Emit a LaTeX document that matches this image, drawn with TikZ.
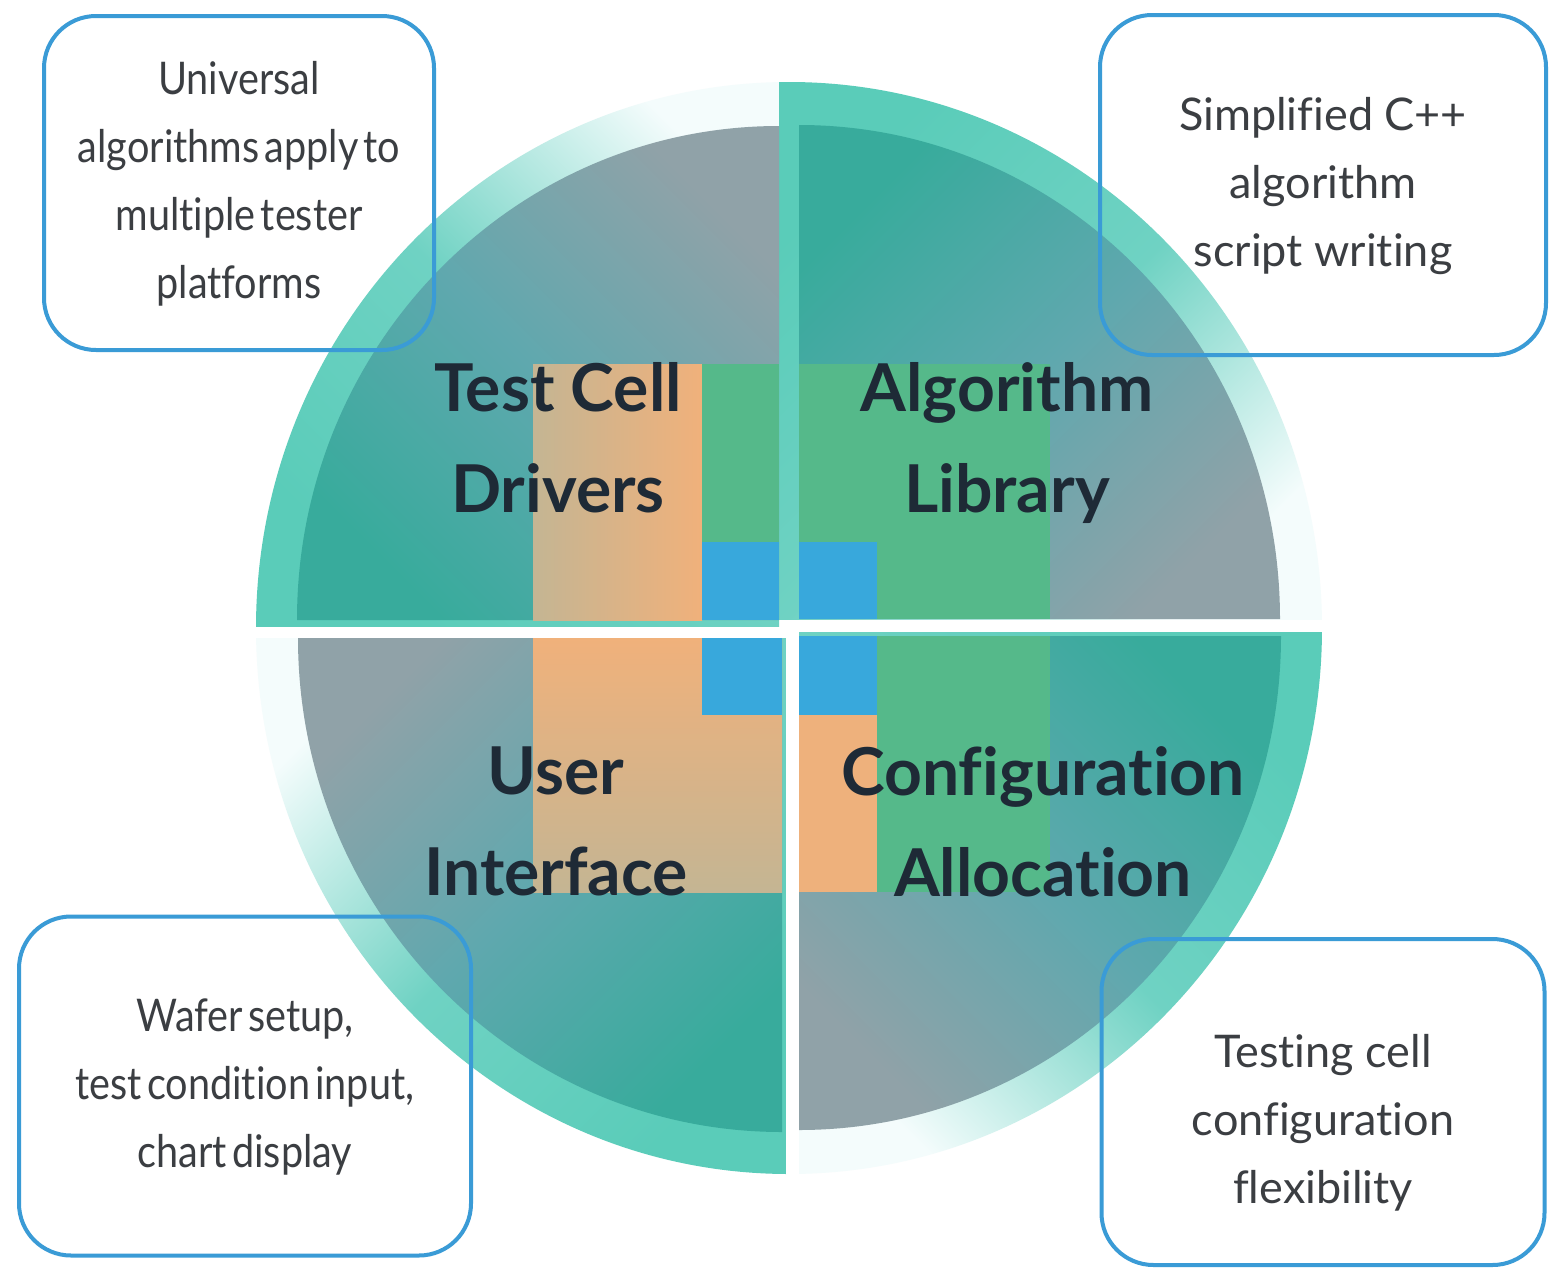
\documentclass[tikz,border=0pt]{standalone}
\usepackage{fontspec}
\setmainfont{Lato}[Ligatures=NoCommon]
\newfontfamily\tightfont{Lato}[Ligatures=NoCommon, FakeStretch=0.88, WordSpace=0.5]
\usetikzlibrary{positioning}

\definecolor{bandteal}{HTML}{5ACCB9}
\definecolor{bandmid}{HTML}{6FD2C3}
\definecolor{bandfade}{HTML}{F4FCFC}
\definecolor{discteal}{HTML}{38AB9C}
\definecolor{discmid}{HTML}{5FA8AE}
\definecolor{discgray}{HTML}{90A2A8}
\definecolor{cellgreen}{HTML}{55B98A}
\definecolor{cellblue}{HTML}{38A8DC}
\definecolor{cellorange}{HTML}{F0B17B}
\definecolor{celltan}{HTML}{C4B593}
\definecolor{boxblue}{HTML}{3A9BD6}
\definecolor{titleink}{HTML}{1E2A36}
\definecolor{noteink}{HTML}{3B3E42}

\tikzset{
  band/.style={top color=bandfade, bottom color=bandteal, middle color=bandmid, shading angle=#1},
  disc/.style={top color=discgray, bottom color=discteal, middle color=discmid, shading angle=#1},
  infobox/.style={draw=boxblue, line width=2pt, rounded corners=26pt, inner sep=0pt},
  note/.style={text=noteink, align=center, inner sep=0pt, font=\fontsize{22.5}{34}\selectfont},
  tightnote/.style={note, font=\tightfont\fontsize{22.5}{34}\selectfont},
  title/.style={text=titleink, align=center, inner sep=0pt, font=\fontsize{33}{50.5}\selectfont\bfseries},
}

\begin{document}
\begin{tikzpicture}[x=0.5pt, y=-0.5pt]
  \useasboundingbox (0,0) rectangle (1549,1270);
  \fill[white] (0,0) rectangle (1549,1270);
  \clip (0,0) rectangle (1549,1270);

  % outer bands
  \begin{scope}
    \clip (0,0) rectangle (779,626);
    \shade[band=-45] (789,628) -- (256,628) arc[start angle=180, end angle=270, x radius=533, y radius=546] -- cycle;
  \end{scope}
  \begin{scope}
    \clip (779,0) rectangle (1549,619);
    \shade[band=-135] (779,628) -- (779,82) -- (789,82) arc[start angle=270, end angle=360, x radius=533, y radius=546] -- cycle;
  \end{scope}
  \begin{scope}
    \clip (799,632) rectangle (1549,1270);
    \shade[band=135] (789,628) -- (1322,628) arc[start angle=0, end angle=90, x radius=533, y radius=546] -- cycle;
  \end{scope}
  \begin{scope}
    \clip (0,638) rectangle (786,1270);
    \shade[band=45] (786,628) -- (786,1174) -- (789,1174) arc[start angle=90, end angle=180, x radius=533, y radius=546] -- cycle;
  \end{scope}

  % inner quarter discs
  \shade[disc=-45] (779,620) -- ++(-482,0) arc[start angle=180, end angle=270, x radius=482, y radius=494] -- cycle;
  \shade[disc=-135] (799,619) -- ++(0,-494) arc[start angle=270, end angle=360, x radius=481, y radius=494] -- cycle;
  \shade[disc=135] (799,636) -- ++(482,0) arc[start angle=0, end angle=90, x radius=482, y radius=494] -- cycle;
  \shade[disc=45] (782,638) -- ++(0,494) arc[start angle=90, end angle=180, x radius=484, y radius=494] -- cycle;

  % pinwheel cells
  \shade[left color=celltan, right color=cellorange] (533,364) rectangle (702,620);
  \fill[cellgreen] (702,364) rectangle (779,542);
  \fill[cellblue] (702,542) rectangle (779,620);
  \fill[cellgreen] (799,364) rectangle (1050,619);
  \fill[cellblue] (799,542) rectangle (877,619);
  \fill[cellblue] (799,636) rectangle (877,715);
  \fill[cellorange!95!celltan] (799,715) rectangle (877,892);
  \fill[cellgreen] (877,636) rectangle (1050,892);
  \shade[top color=cellorange, bottom color=celltan] (533,638) rectangle (782,892);
  \fill[cellblue] (702,638) rectangle (782,715);

  % quadrant titles
  \node[title] (drivers) at (558,442) {\strut Test Cell\\\strut Drivers};
  \node[title] (library) at (1007,442) {\strut Algorithm\\\strut Library};
  \node[title] (ui) at (556,825) {\strut User\\\strut Interface};
  \node[title] (config) at (1043,826) {\strut Configuration\\\strut Allocation};

  % call-out boxes
  \node[infobox, minimum width=195pt, minimum height=167pt] (boxTL) at (239,183) {};
  \node[infobox, minimum width=223pt, minimum height=170pt] (boxTR) at (1323,185) {};
  \node[infobox, minimum width=226pt, minimum height=169.5pt] (boxBL) at (245,1086) {};
  \node[infobox, minimum width=221.5pt, minimum height=163pt] (boxBR) at (1323,1102) {};

  \node[tightnote] (noteTL) at (boxTL.center) {\strut Universal\\\strut algorithms apply to\\\strut multiple tester\\\strut platforms};
  \node[note] (noteTR) at (boxTR.center) {\strut Simplified C++\\\strut algorithm\\\strut script writing};
  \node[tightnote] (noteBL) at (boxBL.center) {\strut Wafer setup,\\\strut test condition input,\\\strut chart display};
  \node[note] (noteBR) at ([yshift=-10pt]boxBR.center) {\strut Testing cell\\\strut configuration\\\strut flexibility};
\end{tikzpicture}
\end{document}
